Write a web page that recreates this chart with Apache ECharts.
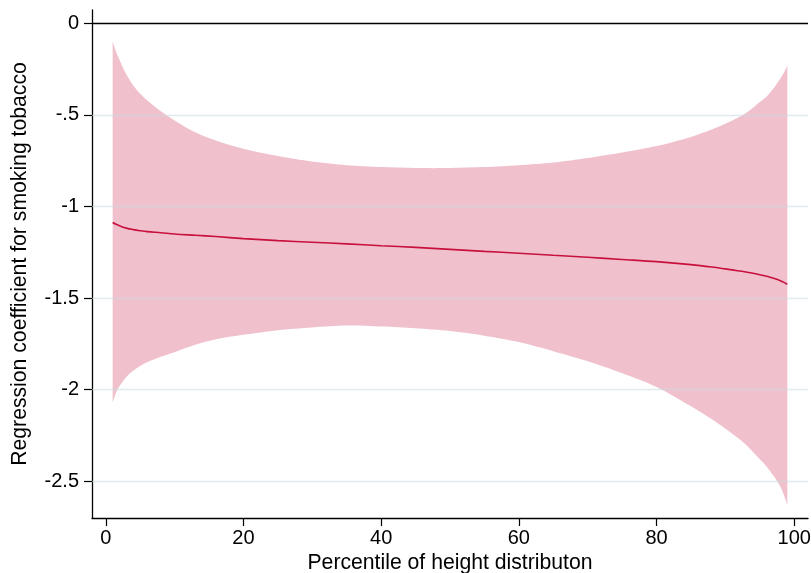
<!DOCTYPE html>
<html>
<head>
<meta charset="utf-8">
<script src="https://cdn.jsdelivr.net/npm/echarts@6/dist/echarts.min.js"></script>
<style>
html,body{margin:0;padding:0;background:#fff;}
#chart{width:811px;height:573px;}
</style>
</head>
<body>
<div id="chart"></div>
<script>
var percentiles = [1,1.5,2,3,4,5,6,8,10,13,16,20,25,30,35,40,45,50,55,60,65,70,75,80,85,88,91,93,95,96,97,98,98.5,99];
var coefficient = [-1.087,-1.097,-1.105,-1.118,-1.126,-1.132,-1.137,-1.143,-1.15,-1.157,-1.164,-1.175,-1.186,-1.195,-1.204,-1.214,-1.223,-1.234,-1.245,-1.255,-1.266,-1.277,-1.289,-1.301,-1.317,-1.33,-1.346,-1.357,-1.372,-1.381,-1.392,-1.405,-1.414,-1.425];
var upperCI = [-0.10,-0.155,-0.20,-0.28,-0.34,-0.385,-0.42,-0.48,-0.53,-0.595,-0.64,-0.685,-0.725,-0.755,-0.775,-0.785,-0.79,-0.79,-0.785,-0.775,-0.76,-0.735,-0.705,-0.67,-0.62,-0.58,-0.53,-0.49,-0.43,-0.40,-0.355,-0.30,-0.27,-0.23];
var lowerCI = [-2.07,-2.015,-1.98,-1.93,-1.895,-1.87,-1.85,-1.82,-1.795,-1.755,-1.725,-1.70,-1.675,-1.66,-1.65,-1.655,-1.665,-1.68,-1.705,-1.74,-1.79,-1.845,-1.91,-1.985,-2.09,-2.16,-2.24,-2.30,-2.38,-2.42,-2.47,-2.53,-2.575,-2.63];
var xTicks = [0,20,40,60,80,100];
var yTicks = [-2.5,-2,-1.5,-1,-0.5,0];
var yGridValues = [-2.5,-2,-1.5,-1,-0.5];

var FONT = '"Liberation Sans", Arial, Helvetica, sans-serif';

var bandData = percentiles.map(function(p,i){ return [p, lowerCI[i], upperCI[i]]; });
var lineData = percentiles.map(function(p,i){ return [p, coefficient[i]]; });

var chart = echarts.init(document.getElementById('chart'), null, {renderer:'canvas'});
chart.setOption({
  animation:false,
  backgroundColor:'#ffffff',
  grid:{left:92, right:3, top:10, bottom:55, containLabel:false, outerBoundsMode:'none'},
  xAxis:{
    type:'value', min:-2, max:102,
    name:'Percentile of height distributon', nameLocation:'middle', nameGap:31,
    nameTextStyle:{fontFamily:FONT, fontSize:21.2, color:'#000'},
    axisLine:{show:true, onZero:false, lineStyle:{color:'#000', width:1.3}},
    axisTick:{show:true, length:8, customValues:xTicks, lineStyle:{color:'#000', width:1.2}},
    axisLabel:{fontFamily:FONT, fontSize:20, color:'#000', margin:10, customValues:xTicks},
    splitLine:{show:false}
  },
  yAxis:{
    type:'value', min:-2.70, max:0.0725,
    name:'Regression coefficient for smoking tobacco', nameLocation:'middle', nameGap:61,
    nameTextStyle:{fontFamily:FONT, fontSize:21.2, color:'#000'},
    axisLine:{show:true, onZero:false, lineStyle:{color:'#000', width:1.3}},
    axisTick:{show:true, length:8, customValues:yTicks, lineStyle:{color:'#000', width:1.2}},
    axisLabel:{fontFamily:FONT, fontSize:20, color:'#000', margin:13, customValues:yTicks,
      formatter:function(v){ var s=String(v); return s.replace(/^(-?)0\./,'$1.'); }},
    splitLine:{show:false}
  },
  series:[
    {
      type:'custom',
      data:bandData,
      encode:{x:0, y:[1,2]},
      z:1,
      silent:true,
      renderItem:function(params, api){
        if (params.dataIndex !== 0) return null;
        var n = bandData.length, pts = [];
        pts.push(api.coord([bandData[0][0], bandData[0][2]]));
        for (var i=0;i<n;i++) pts.push(api.coord([bandData[i][0], bandData[i][2]]));
        pts.push(api.coord([bandData[n-1][0], bandData[n-1][2]]));
        pts.push(api.coord([bandData[n-1][0], bandData[n-1][1]]));
        for (var j=n-1;j>=0;j--) pts.push(api.coord([bandData[j][0], bandData[j][1]]));
        pts.push(api.coord([bandData[0][0], bandData[0][1]]));
        return {type:'polygon', shape:{points:pts, smooth:0.3}, style:{fill:'rgba(195,7,55,0.25)'}};
      }
    },
    {
      type:'line',
      data:lineData,
      smooth:0.3,
      showSymbol:false,
      z:3,
      lineStyle:{color:'#c8103c', width:1.6},
      markLine:{
        silent:true, symbol:['none','none'], label:{show:false},
        data: yGridValues.map(function(v){ return {yAxis:v, lineStyle:{color:'rgba(200,218,222,0.55)', width:1.3, type:'solid'}}; })
          .concat([{yAxis:0, lineStyle:{color:'#000', width:1.4, type:'solid'}}])
      }
    }
  ]
});
</script>
</body>
</html>
